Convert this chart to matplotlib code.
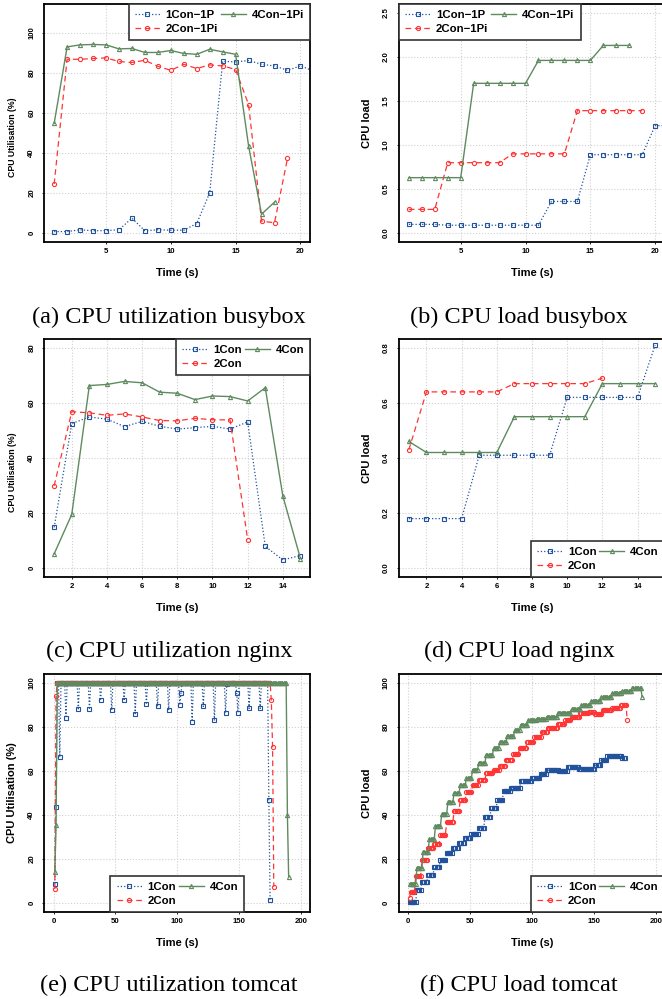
import numpy as np
import matplotlib.pyplot as plt

plt.rcParams['font.family'] = ['Liberation Sans', 'DejaVu Sans']

BLUE = '#22529c'
RED = '#ff3434'
GREEN = '#5f8a5f'

# (a) CPU utilisation busybox
a_t_blue = list(range(1, 22))
a_blue = [0.8, 0.8, 1.7, 1.2, 1.3, 1.7, 7.5, 1.2, 1.7, 1.5, 1.5, 4.8, 20.2,
          85.8, 85.5, 86.2, 84.3, 83.5, 81.3, 83.5, 81.0]
a_t_red = list(range(1, 20))
a_red = [24.5, 86.8, 86.8, 87.2, 87.5, 85.7, 85.2, 86.3, 83.3, 81.3, 84.3,
         82.2, 84.0, 83.5, 81.7, 64.2, 6.0, 5.2, 37.3]
a_t_green = list(range(1, 19))
a_green = [54.8, 93.0, 94.0, 94.2, 94.0, 92.0, 92.2, 90.2, 90.2, 91.2, 89.7,
           89.3, 91.8, 90.5, 89.3, 43.5, 9.5, 15.5]

# (b) CPU load busybox
b_blue = [0.10, 0.10, 0.10, 0.09, 0.09, 0.09, 0.09, 0.09, 0.09, 0.09, 0.09,
          0.36, 0.36, 0.36, 0.89, 0.89, 0.89, 0.89, 0.89, 1.22, 1.22]
b_red = [0.27, 0.27, 0.27, 0.80, 0.80, 0.80, 0.80, 0.80, 0.90, 0.90, 0.90,
         0.90, 0.90, 1.39, 1.39, 1.39, 1.39, 1.39, 1.39]
b_green = [0.63, 0.63, 0.63, 0.63, 0.63, 1.70, 1.70, 1.70, 1.70, 1.70, 1.96,
           1.96, 1.96, 1.96, 1.96, 2.13, 2.13, 2.13]

# (c) CPU utilisation nginx
c_blue = [14.8, 52.5, 54.9, 54.1, 51.4, 53.3, 51.5, 50.5, 51.0, 51.5, 50.5,
          53.1, 7.9, 3.0, 4.6]
c_red = [29.9, 56.8, 56.4, 55.5, 56.0, 54.9, 53.6, 53.5, 54.4, 53.9, 53.8, 10.4]
c_green = [5.2, 19.5, 66.3, 66.7, 67.8, 67.3, 63.9, 63.5, 61.2, 62.5, 62.3,
           60.7, 65.5, 26.2, 3.5]

# (d) CPU load nginx
d_blue = [0.18, 0.18, 0.18, 0.18, 0.41, 0.41, 0.41, 0.41, 0.41, 0.62, 0.62,
          0.62, 0.62, 0.62, 0.81]
d_red = [0.43, 0.64, 0.64, 0.64, 0.64, 0.64, 0.67, 0.67, 0.67, 0.67, 0.67, 0.69]
d_green = [0.46, 0.42, 0.42, 0.42, 0.42, 0.42, 0.55, 0.55, 0.55, 0.55, 0.55,
           0.67, 0.67, 0.67, 0.67]

# (e) CPU utilisation tomcat: samples at 100 % except the listed ones
e_len_blue, e_len_red, e_len_green = 175, 178, 190
e_blue_t = [1, 2, 5, 10, 20, 29, 38, 47, 57, 66, 75, 84, 93, 102, 103, 112,
            121, 130, 139, 140, 148, 149, 158, 167, 174, 175]
e_blue_v = [8.8, 43.6, 66.3, 84.0, 88.2, 87.9, 92.0, 87.6, 92.4, 86.0, 90.2,
            89.3, 87.6, 89.9, 95.6, 82.3, 89.3, 82.9, 86.4, 99.4, 95.6, 86.5,
            88.4, 88.4, 46.8, 1.4]
e_red_t = [1, 2, 176, 177, 178]
e_red_v = [6.4, 94.2, 92.0, 71.1, 7.5]
e_green_t = [1, 2, 189, 190]
e_green_v = [14.2, 35.6, 40.0, 12.0]

# (f) CPU load tomcat: plateau levels and the last second of each plateau
f_blue_lvl = [0.5, 6.2, 9.8, 12.6, 16.4, 19.8, 22.7, 25.2, 27.4, 29.7, 31.5,
              34.2, 39.1, 43.2, 46.7, 50.9, 52.4, 55.3, 56.8, 58.5, 60.3, 59.8,
              61.8, 61.1, 62.6, 65.2, 66.7, 65.9]
f_blue_end = [6, 10, 15, 20, 25, 30, 35, 40, 45, 50, 56, 61, 66, 71, 76, 82,
              90, 99, 106, 111, 121, 128, 137, 150, 155, 160, 172, 175]
f_red_lvl = [2.5, 5.3, 12.3, 19.4, 25.2, 27.0, 31.1, 36.7, 41.8, 46.7, 50.5,
             53.5, 56.1, 59.1, 60.3, 62.1, 65.2, 67.9, 70.5, 73.2, 75.5, 77.6,
             79.7, 81.1, 83.0, 84.5, 86.1, 86.7, 86.0, 87.6, 88.6, 89.8, 83.0]
f_red_end = [1, 5, 10, 15, 20, 25, 30, 36, 41, 46, 51, 56, 62, 68, 73, 78, 84,
             89, 95, 101, 107, 112, 120, 126, 131, 138, 145, 150, 156, 164, 171,
             176, 177]
f_green_lvl = [8.8, 16.1, 23.2, 29.2, 35.2, 40.3, 45.8, 50.0, 53.5, 56.8, 60.6,
               63.8, 67.3, 70.3, 73.2, 75.7, 78.4, 81.0, 83.0, 83.5, 84.5, 86.5,
               88.0, 90.0, 91.8, 93.6, 95.3, 96.4, 97.5, 93.6]
f_green_end = [6, 11, 16, 21, 26, 31, 36, 41, 46, 51, 56, 62, 68, 73, 79, 85,
               90, 96, 103, 111, 120, 131, 139, 147, 155, 164, 172, 180, 188, 189]

labels_busy = ['1Con\u22121P', '2Con\u22121Pi', '4Con\u22121Pi']
labels_con = ['1Con', '2Con', '4Con']
captions = ['(a) CPU utilization busybox', '(b) CPU load busybox',
            '(c) CPU utilization nginx', '(d) CPU load nginx',
            '(e) CPU utilization tomcat', '(f) CPU load tomcat']


def with_dips(n, ts, vs):
    y = np.full(n, 100.0)
    y[np.array(ts) - 1] = vs
    return np.arange(1, n + 1), y


def steps(levels, ends):
    counts = np.diff([0] + ends)
    y = np.repeat(levels, counts)
    return np.arange(1, len(y) + 1), y


def draw(ax, series, labels, ms=3.0):
    styles = [dict(color=BLUE, ls=':', marker='s', lw=0.9),
              dict(color=RED, ls=(0, (4.5, 3)), marker='o', lw=0.9),
              dict(color=GREEN, ls='-', marker='^', lw=1.0)]
    for (x, y), st, lab in zip(series, styles, labels):
        ax.plot(x, y, mfc='none', ms=ms, mew=0.8, label=lab, **st)


def style(ax, xlim, ylim, xticks, yticks, ylabel, yfmt, ylsize=8, ylpos=0.5):
    ax.set_xlim(xlim)
    ax.set_ylim(ylim)
    ax.set_xticks(xticks)
    ax.set_yticks(yticks)
    ax.set_xticklabels([str(v) for v in xticks], fontsize=5.6, fontweight='bold')
    ax.set_yticklabels([yfmt.format(v) for v in yticks], fontsize=5.6,
                       fontweight='bold', rotation=90, va='center')
    ax.tick_params(axis='x', length=1.5, width=0.6, pad=2.5)
    ax.tick_params(axis='y', length=1.5, width=0.6, pad=5)
    ax.grid(True, color='#d0d0d0', ls=':', lw=0.8)
    ax.set_axisbelow(True)
    for sp in ax.spines.values():
        sp.set_linewidth(1.3)
    ax.set_xlabel('Time (s)', fontsize=8, fontweight='bold')
    ax.set_ylabel(ylabel, fontsize=ylsize, fontweight='bold')
    ax.xaxis.set_label_coords(0.5, -0.13)
    ax.xaxis.label.set_va('center')
    ax.yaxis.set_label_coords(-0.12, ylpos)
    ax.yaxis.label.set_va('center')


def legend(ax, loc):
    leg = ax.legend(loc=loc, ncol=2, borderaxespad=0, fancybox=False,
                    framealpha=1, edgecolor='#333333', handlelength=2.2,
                    handletextpad=0.5, columnspacing=0.25, labelspacing=0.32,
                    borderpad=0.55, numpoints=1,
                    prop=dict(size=8.2, weight='bold'))
    leg.get_frame().set_linewidth(1.2)
    leg.set_zorder(5)


fig = plt.figure(figsize=(6.62, 9.99), dpi=100)
W, H = 266 / 662, 238 / 999
lefts = [44.3 / 662, 399 / 662]
bottoms = [1 - 242 / 999, 1 - 577 / 999, 1 - 912 / 999]
axs = [[fig.add_axes([l, b, W, H]) for l in lefts] for b in bottoms]

# row 1
ax = axs[0][0]
draw(ax, [(a_t_blue, a_blue), (a_t_red, a_red), (a_t_green, a_green)], labels_busy)
style(ax, (0.24, 20.76), (-4.4, 114.4), [5, 10, 15, 20], [0, 20, 40, 60, 80, 100],
      'CPU Utilisation (%)', '{:d}', ylsize=6.3, ylpos=0.44)
legend(ax, 'upper right')

ax = axs[0][1]
draw(ax, [(range(1, len(b_blue) + 1), b_blue), (range(1, len(b_red) + 1), b_red),
          (range(1, len(b_green) + 1), b_green)], labels_busy)
style(ax, (0.24, 20.76), (-0.1, 2.6), [5, 10, 15, 20], [0, 0.5, 1.0, 1.5, 2.0, 2.5],
      'CPU load', '{:.1f}')
legend(ax, 'upper left')

# row 2
ax = axs[1][0]
draw(ax, [(range(1, len(c_blue) + 1), c_blue), (range(1, len(c_red) + 1), c_red),
          (range(1, len(c_green) + 1), c_green)], labels_con)
style(ax, (0.44, 15.56), (-3.2, 83.2), [2, 4, 6, 8, 10, 12, 14], [0, 20, 40, 60, 80],
      'CPU Utilisation (%)', '{:d}', ylsize=6.3, ylpos=0.44)
legend(ax, 'upper right')

ax = axs[1][1]
draw(ax, [(range(1, len(d_blue) + 1), d_blue), (range(1, len(d_red) + 1), d_red),
          (range(1, len(d_green) + 1), d_green)], labels_con)
style(ax, (0.44, 15.56), (-0.032, 0.832), [2, 4, 6, 8, 10, 12, 14],
      [0, 0.2, 0.4, 0.6, 0.8], 'CPU load', '{:.1f}')
legend(ax, 'lower right')

# row 3
ax = axs[2][0]
draw(ax, [with_dips(e_len_blue, e_blue_t, e_blue_v),
          with_dips(e_len_red, e_red_t, e_red_v),
          with_dips(e_len_green, e_green_t, e_green_v)], labels_con)
style(ax, (-7.5, 207.5), (-4, 104), [0, 50, 100, 150, 200], [0, 20, 40, 60, 80, 100],
      'CPU Utilisation (%)', '{:d}')
legend(ax, 'lower center')

ax = axs[2][1]
draw(ax, [steps(f_blue_lvl, f_blue_end), steps(f_red_lvl, f_red_end),
          steps(f_green_lvl, f_green_end)], labels_con)
style(ax, (-7.5, 207.5), (-4, 104), [0, 50, 100, 150, 200], [0, 20, 40, 60, 80, 100],
      'CPU load', '{:d}')
legend(ax, 'lower right')

cap_x = [169 / 662, 519 / 662]
cap_y = [1 - 317 / 999, 1 - 651 / 999, 1 - 985 / 999]
for i, cap in enumerate(captions):
    fig.text(cap_x[i % 2], cap_y[i // 2], cap, ha='center', va='center',
             fontsize=17.5, family='Liberation Serif')

fig.savefig('out.png', dpi=100)
